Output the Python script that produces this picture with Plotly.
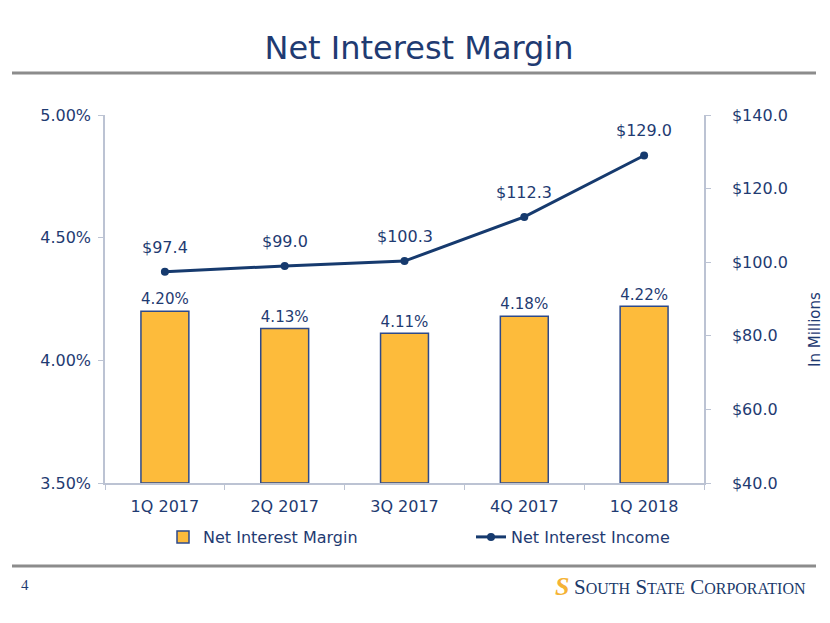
import plotly.graph_objects as go

categories = ["1Q 2017", "2Q 2017", "3Q 2017", "4Q 2017", "1Q 2018"]
nim_values = [4.20, 4.13, 4.11, 4.18, 4.22]
nii_values = [97.4, 99.0, 100.3, 112.3, 129.0]
left_ticks = [3.5, 4.0, 4.5, 5.0]
left_tick_text = ["3.50%", "4.00%", "4.50%", "5.00%"]
right_ticks = [40, 60, 80, 100, 120, 140]
right_tick_text = ["$40.0", "$60.0", "$80.0", "$100.0", "$120.0", "$140.0"]

NAVY = "#1F3B72"
LINE = "#163A6E"
BAR = "#FDBB3B"
AXIS = "#BCC3D3"
FONT = "DejaVu Sans, Verdana, sans-serif"

# the page body has an 8px margin; work in page pixels and shift
OFF = 8
W, H = 830 - OFF, 623 - OFF
L, R, T, B = 105 - OFF, 704 - OFF, 115 - OFF, 483 - OFF
pw, ph = R - L, B - T

def px_x(x):
    return (x - OFF - L) / pw

def px_y(y):
    return (B - (y - OFF)) / ph

fig = go.Figure()
fig.add_trace(go.Bar(
    x=categories, y=[v - 3.5 for v in nim_values], base=3.5,
    name="Net Interest Margin",
    marker=dict(color=BAR, line=dict(color="#2E4A8A", width=1.5)),
    width=0.4,
    text=[f"{v:.2f}%" for v in nim_values],
    textposition="outside", cliponaxis=False,
    textfont=dict(color=NAVY, size=16, family=FONT),
    yaxis="y", legend="legend",
))
fig.add_trace(go.Scatter(
    x=categories, y=nii_values, name="Net Interest Income",
    mode="lines+markers",
    line=dict(color=LINE, width=3),
    marker=dict(color=LINE, size=8),
    yaxis="y2", legend="legend2",
))

annotations = []
for c, v in zip(categories, nii_values):
    annotations.append(dict(x=c, y=v, xref="x", yref="y2", text=f"${v:.1f}",
                            showarrow=False, yanchor="bottom", yshift=13,
                            font=dict(color=NAVY, size=16, family=FONT)))
annotations.append(dict(x=px_x(815), y=px_y(330), xref="paper", yref="paper",
                        text="In Millions", textangle=-90, showarrow=False,
                        xanchor="center", yanchor="middle",
                        font=dict(color=NAVY, size=15, family=FONT)))
annotations.append(dict(x=px_x(25), y=px_y(585), xref="paper", yref="paper",
                        text="4", showarrow=False, xanchor="center", yanchor="middle",
                        font=dict(color=NAVY, size=15, family="Liberation Serif, serif")))
annotations.append(dict(x=px_x(562), y=px_y(586), xref="paper", yref="paper",
                        text="<b><i>S</i></b>", showarrow=False, xanchor="center",
                        yanchor="middle",
                        font=dict(color="#F5B335", size=26, family="Liberation Serif, serif")))
logo = ("S<span style='font-size:16px'>OUTH</span> "
        "S<span style='font-size:16px'>TATE</span> "
        "C<span style='font-size:16px'>ORPORATION</span>")
annotations.append(dict(x=px_x(808), y=px_y(587), xref="paper", yref="paper",
                        text=logo, showarrow=False, xanchor="right", yanchor="middle",
                        font=dict(color="#1B3A6B", size=21, family="Liberation Serif, serif")))

shapes = [
    dict(type="line", xref="paper", yref="paper", x0=px_x(12), x1=px_x(816),
         y0=px_y(73), y1=px_y(73), line=dict(color="#8C8C8C", width=3)),
    dict(type="line", xref="paper", yref="paper", x0=px_x(12), x1=px_x(816),
         y0=px_y(566), y1=px_y(566), line=dict(color="#8C8C8C", width=3)),
]

legend_style = dict(orientation="h", yanchor="middle", y=px_y(537), xanchor="left",
                    font=dict(size=16, color=NAVY), bgcolor="rgba(0,0,0,0)")

fig.update_layout(
    width=W, height=H,
    margin=dict(l=L, r=W - R, t=T, b=H - B, pad=0),
    paper_bgcolor="white", plot_bgcolor="white",
    font=dict(family=FONT, color=NAVY, size=16),
    title=dict(text="Net Interest Margin", x=0.5, xanchor="center",
               y=1 - (48 - OFF) / H, yanchor="middle",
               font=dict(size=32, color="#1F3B72", family=FONT)),
    xaxis=dict(showline=True, linecolor=AXIS, linewidth=1.5, ticks="outside",
               tickson="boundaries", ticklen=5, tickcolor=AXIS,
               tickfont=dict(size=16, color=NAVY), showgrid=False,
               ticklabelstandoff=8),
    yaxis=dict(range=[3.5, 5.0], tickvals=left_ticks, ticktext=left_tick_text,
               showline=True, linecolor=AXIS, linewidth=1.5, ticks="outside",
               ticklen=5, tickcolor=AXIS, showgrid=False, zeroline=False,
               tickfont=dict(size=16, color=NAVY), ticklabelstandoff=4),
    yaxis2=dict(range=[40, 140], tickvals=right_ticks, ticktext=right_tick_text,
                overlaying="y", side="right", showline=True, linecolor=AXIS,
                linewidth=1.5, ticks="outside", ticklen=5, tickcolor=AXIS,
                showgrid=False, zeroline=False,
                tickfont=dict(size=16, color=NAVY), ticklabelstandoff=18),
    legend=dict(legend_style, x=px_x(163)),
    legend2=dict(legend_style, x=px_x(471)),
    annotations=annotations,
    shapes=shapes,
    showlegend=True,
)

fig.write_html("out.html")
